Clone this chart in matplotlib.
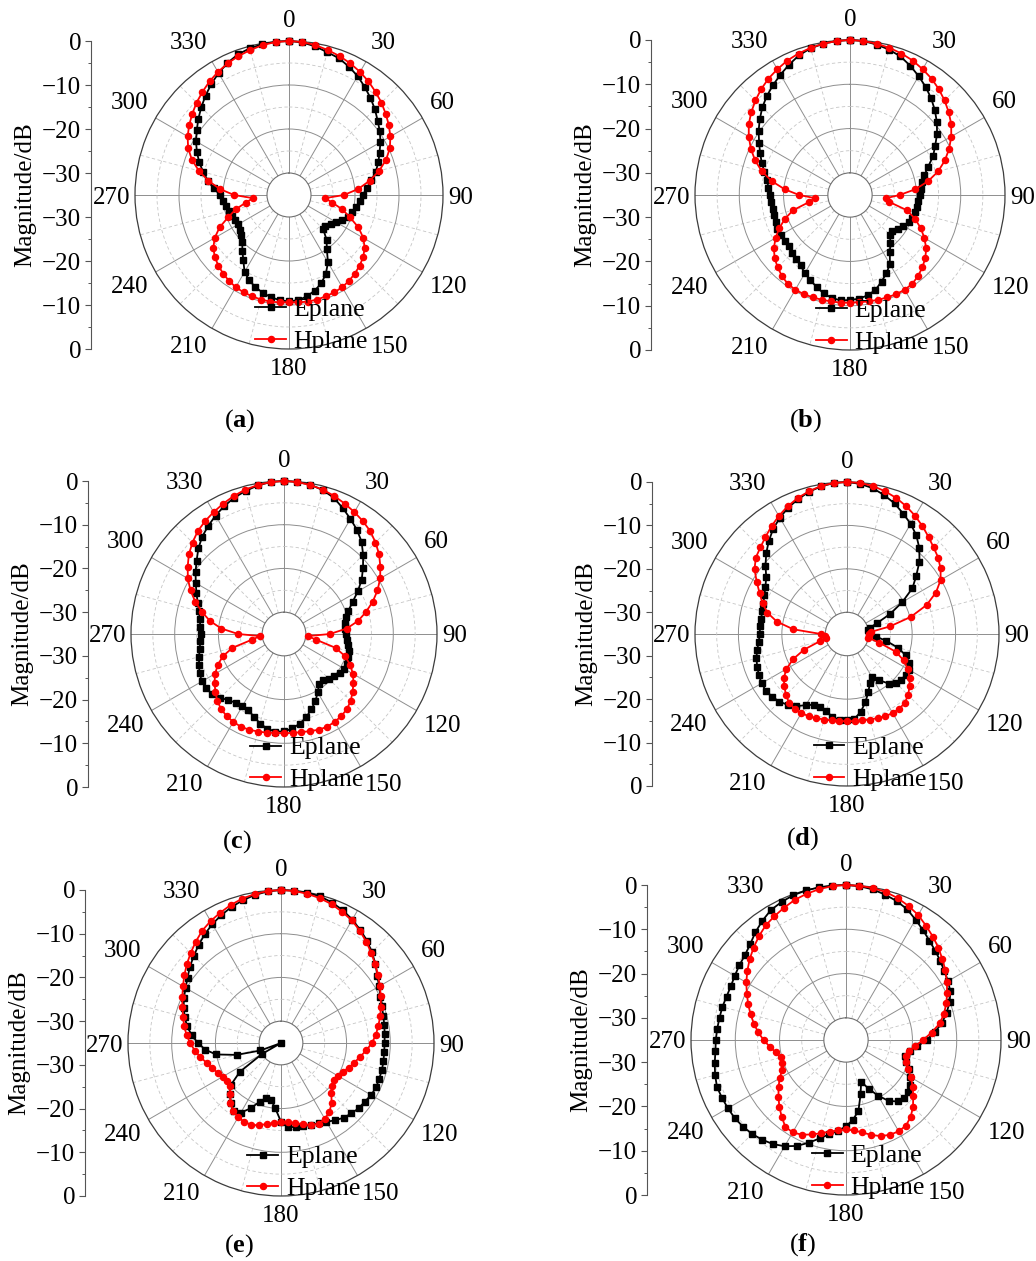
"""Radiation patterns (E-plane / H-plane) for six antenna states, polar dB plots."""

import matplotlib.pyplot as plt
import numpy as np
from matplotlib.ticker import FixedLocator

plt.rcParams["font.family"] = ["Liberation Serif", "DejaVu Serif"]
plt.rcParams["mathtext.fontset"] = "custom"
plt.rcParams["mathtext.rm"] = "Liberation Serif"
plt.rcParams["mathtext.bf"] = "Liberation Serif:bold"

W, H = 1036, 1261

# sampling angles (deg, clockwise from broadside)
ANGLES_DEG = np.arange(0, 360, 5)

E_A = [0.0, -0.2, -0.7, -1.4, -1.9, -2.8, -3.8, -5.0, -6.2, -7.4, -8.7, -9.8,
       -11.0, -12.3, -13.4, -14.6, -16.0, -17.3, -18.2, -18.9, -19.5, -20.1, -20.7, -21.7,
       -22.6, -23.4, -24.2, -24.0, -21.7, -20.0, -17.3, -15.2, -13.6, -12.5, -11.6, -11.0,
       -10.8, -11.0, -11.4, -12.0, -12.7, -13.6, -14.8, -16.9, -18.5, -20.0, -20.8, -21.3,
       -21.6, -21.5, -21.2, -20.8, -20.4, -20.0, -19.4, -17.8, -16.3, -14.8, -13.3, -11.9,
       -10.6, -9.4, -8.1, -6.8, -5.5, -4.2, -3.0, -1.9, -1.0, -0.5, -0.2, -0.05]
H_A = [0.0, -0.1, -0.4, -0.9, -1.4, -2.0, -2.7, -3.5, -4.4, -5.3, -6.3, -7.3,
       -8.4, -9.7, -11.5, -13.8, -16.4, -19.2, -22.5, -26.8, -25.0, -22.5, -20.3, -17.6,
       -15.5, -14.0, -13.0, -12.3, -11.7, -11.2, -10.8, -10.6, -10.5, -10.4, -10.4, -10.5,
       -10.6, -10.5, -10.4, -10.4, -10.5, -10.6, -10.8, -11.2, -11.7, -12.3, -13.0, -14.0,
       -15.5, -17.6, -20.3, -22.5, -25.0, -26.8, -22.5, -19.2, -16.4, -13.8, -11.5, -9.7,
       -8.4, -7.3, -6.3, -5.3, -4.4, -3.5, -2.7, -2.0, -1.4, -0.9, -0.4, -0.1]

E_B = [0.0, -0.1, -0.5, -1.0, -1.7, -2.8, -4.0, -5.2, -6.5, -7.9, -9.4, -11.0,
       -12.8, -14.3, -16.2, -17.6, -18.4, -19.0, -19.3, -19.6, -19.7, -19.8, -20.1, -20.4,
       -21.1, -21.8, -22.5, -22.2, -20.8, -19.3, -17.0, -15.5, -14.2, -12.8, -12.0, -11.5,
       -11.3, -11.1, -11.4, -12.0, -12.9, -13.8, -14.6, -15.6, -16.2, -16.6, -17.0, -17.0,
       -16.9, -16.9, -17.1, -17.2, -17.3, -17.1, -16.9, -16.5, -16.0, -15.0, -13.8, -12.6,
       -11.3, -9.8, -8.4, -7.0, -5.8, -4.7, -3.6, -2.5, -1.4, -0.7, -0.3, -0.1]
H_B = [0.0, -0.1, -0.3, -0.6, -1.0, -1.5, -2.2, -2.9, -3.8, -4.8, -5.9, -7.1,
       -8.6, -10.3, -12.2, -14.4, -17.1, -20.2, -23.8, -26.8, -26.0, -21.7, -19.4, -17.4,
       -15.6, -14.0, -12.8, -11.9, -11.1, -10.5, -10.3, -10.3, -10.4, -10.5, -10.6, -10.7,
       -10.7, -10.6, -10.6, -10.5, -10.4, -10.3, -10.3, -10.5, -11.1, -11.9, -12.8, -14.0,
       -15.6, -17.4, -19.4, -21.7, -25.5, -27.0, -23.5, -20.2, -17.1, -14.4, -12.2, -10.3,
       -8.6, -7.1, -5.9, -4.8, -3.8, -2.9, -2.2, -1.5, -1.0, -0.6, -0.3, -0.1]

E_C = [0.0, -0.1, -0.3, -0.9, -1.8, -3.2, -4.6, -5.9, -7.4, -9.4, -11.4, -13.3,
       -15.5, -17.7, -19.3, -20.3, -20.8, -21.0, -20.9, -20.5, -20.1, -19.7, -19.3, -19.0,
       -19.1, -19.5, -20.0, -20.6, -21.2, -21.0, -19.6, -18.0, -16.7, -15.3, -14.2, -13.3,
       -12.7, -12.6, -13.0, -13.8, -14.9, -15.7, -16.0, -15.8, -15.2, -14.4, -13.6, -13.3,
       -13.3, -13.7, -14.3, -14.9, -15.4, -15.8, -15.9, -15.8, -15.4, -14.9, -14.0, -12.9,
       -11.7, -10.3, -8.9, -7.3, -5.9, -4.8, -3.7, -2.7, -1.8, -1.1, -0.5, -0.1]
H_C = [0.0, -0.1, -0.4, -0.8, -1.4, -2.1, -2.8, -3.5, -4.3, -5.4, -6.6, -8.1,
       -9.6, -11.4, -13.4, -15.6, -17.8, -20.6, -24.5, -29.5, -27.6, -22.8, -20.1, -18.3,
       -16.8, -15.6, -14.5, -13.4, -12.6, -12.1, -11.8, -11.6, -11.7, -12.0, -12.2, -12.3,
       -12.3, -12.3, -12.1, -11.9, -11.7, -11.6, -11.8, -12.1, -12.6, -13.4, -14.5, -15.6,
       -16.8, -18.3, -20.1, -22.8, -27.6, -29.5, -24.5, -20.6, -17.8, -15.6, -13.4, -11.4,
       -9.6, -8.1, -6.6, -5.4, -4.3, -3.5, -2.8, -2.1, -1.4, -0.8, -0.4, -0.1]

E_D = [0.0, -0.3, -0.9, -1.9, -3.0, -4.4, -5.7, -7.2, -9.1, -11.4, -14.2, -16.6,
       -20.3, -24.0, -27.6, -29.6, -30.0, -30.0, -29.8, -28.3, -25.8, -22.9, -20.6, -19.2,
       -18.5, -18.5, -18.7, -19.1, -20.1, -22.0, -23.6, -22.5, -20.7, -18.7, -16.8, -15.4,
       -15.1, -15.2, -15.6, -16.6, -17.1, -17.0, -16.1, -14.7, -13.7, -13.0, -12.5, -12.2,
       -12.3, -12.6, -13.0, -13.4, -14.0, -14.6, -14.9, -14.9, -14.9, -14.8, -14.5, -14.0,
       -13.3, -12.3, -10.5, -8.7, -7.0, -5.4, -4.1, -2.9, -2.0, -1.1, -0.5, -0.1]
H_D = [0.0, -0.1, -0.4, -1.0, -1.7, -2.6, -3.6, -4.7, -5.8, -6.8, -7.6, -8.7,
       -10.1, -12.4, -15.5, -19.8, -25.0, -29.5, -30.0, -30.0, -30.0, -27.3, -23.0, -20.6,
       -18.8, -17.4, -16.2, -15.1, -14.3, -14.0, -14.0, -14.1, -14.4, -14.6, -14.8, -14.9,
       -14.9, -14.9, -14.8, -14.6, -14.4, -14.1, -14.0, -14.0, -14.3, -15.1, -16.2, -17.2,
       -18.9, -21.3, -24.5, -28.5, -30.0, -30.0, -29.0, -22.6, -18.6, -16.0, -14.3, -12.8,
       -11.0, -9.0, -7.6, -6.8, -5.8, -4.7, -3.6, -2.6, -1.7, -1.0, -0.4, -0.1]

E_E = [0.0, -0.05, -0.1, -0.3, -0.8, -1.5, -2.4, -3.4, -4.4, -5.6, -6.8, -8.1,
       -9.1, -9.9, -10.4, -10.8, -11.0, -11.2, -11.3, -11.3, -11.2, -11.1, -11.1, -11.0,
       -11.2, -11.6, -11.8, -12.2, -12.7, -13.4, -14.2, -14.7, -15.1, -15.3, -15.4, -15.8,
       -17.0, -20.0, -21.8, -22.0, -20.7, -18.5, -16.6, -16.1, -17.2, -18.4, -20.0, -23.5,
       -30.0, -35.0, -30.0, -24.5, -19.9, -17.6, -16.0, -14.5, -13.2, -12.2, -11.3, -10.5,
       -9.8, -8.9, -7.8, -6.8, -5.7, -4.6, -3.6, -2.7, -1.9, -1.2, -0.6, -0.2]
H_E = [0.0, -0.1, -0.35, -0.7, -1.2, -1.9, -2.6, -3.6, -4.7, -5.8, -6.9, -7.9,
       -8.9, -9.8, -10.7, -11.5, -12.4, -13.2, -14.2, -15.4, -16.7, -17.6, -18.5, -19.4,
       -20.0, -20.3, -19.8, -18.7, -17.0, -15.7, -15.0, -14.6, -15.0, -15.8, -16.4, -16.8,
       -17.0, -16.6, -16.2, -15.5, -15.1, -15.1, -15.4, -16.0, -17.0, -18.6, -19.7, -20.0,
       -19.6, -19.0, -18.2, -17.4, -16.3, -15.2, -14.2, -13.3, -12.5, -11.8, -11.0, -10.1,
       -9.1, -8.0, -6.9, -5.8, -4.7, -3.6, -2.8, -2.1, -1.4, -0.8, -0.4, -0.1]

E_F = [0.0, -0.15, -0.45, -1.0, -1.6, -2.4, -3.6, -4.7, -5.7, -6.5, -7.2, -7.9,
       -8.4, -9.0, -10.1, -11.5, -13.0, -14.9, -16.8, -18.8, -20.3, -21.1, -20.6, -19.4,
       -18.3, -17.3, -16.6, -16.5, -16.9, -18.2, -20.5, -22.8, -25.0, -22.3, -18.8, -16.9,
       -15.5, -14.4, -13.4, -12.0, -10.3, -8.6, -7.3, -6.3, -5.6, -5.0, -4.6, -4.3,
       -4.2, -4.1, -4.0, -4.4, -4.9, -5.4, -5.6, -5.8, -6.0, -6.1, -6.3, -6.3,
       -6.0, -5.6, -5.2, -4.4, -3.2, -2.1, -1.1, -0.6, -0.2, -0.05, 0.0, 0.0]
H_F = [0.0, -0.05, -0.15, -0.4, -0.9, -1.6, -2.4, -3.5, -4.5, -5.5, -6.6, -7.6,
       -8.7, -9.8, -10.9, -12.1, -13.5, -15.6, -17.6, -19.3, -20.5, -20.9, -20.5, -19.6,
       -18.1, -16.6, -15.2, -13.6, -12.3, -11.4, -11.2, -11.4, -11.9, -12.8, -13.8, -14.5,
       -14.8, -14.5, -14.0, -13.2, -12.3, -11.4, -10.9, -11.1, -12.4, -13.7, -15.1, -16.4,
       -17.7, -19.1, -19.7, -19.8, -18.9, -17.7, -16.4, -15.1, -13.9, -12.7, -11.5, -10.3,
       -9.0, -7.8, -6.6, -5.5, -4.4, -3.4, -2.7, -2.0, -1.3, -0.8, -0.4, -0.1]

DB_TICKS = [0, -10, -20, -30]
DB_MINOR = [-5, -15, -25]
R_MIN, R_ORIGIN = -30, -35

# letter, E data, H data, centre x/y (px), radius (px), scale-bar x (px), caption x/y (px)
PANELS = [
    ("a", E_A, H_A, 289, 195, 154, 91, 240, 421),
    ("b", E_B, H_B, 850, 195, 155, 651, 806, 421),
    ("c", E_C, H_C, 284, 634, 153, 88, 237, 842),
    ("d", E_D, H_D, 847, 634, 152, 652, 803, 839),
    ("e", E_E, H_E, 281, 1043, 153, 85, 239, 1246),
    ("f", E_F, H_F, 846, 1040, 155, 647, 803, 1245),
]

FS = 18


def fmt_db(v):
    return "0" if v == 0 else "\u2212%d" % abs(v)


def draw_panel(fig, letter, e_db, h_db, cx, cy, rad, bar_x, cap_x, cap_y):
    rect = [(cx - rad) / W, 1 - (cy + rad) / H, 2 * rad / W, 2 * rad / H]
    ax = fig.add_axes(rect, projection="polar")
    ax.set_theta_zero_location("N")
    ax.set_theta_direction(-1)
    ax.set_ylim(R_MIN, 0)
    ax.set_rorigin(R_ORIGIN)

    ax.set_xticks(np.deg2rad(np.arange(0, 360, 30)))
    ax.xaxis.set_minor_locator(FixedLocator(np.deg2rad(np.arange(15, 360, 30))))
    ax.set_yticks([-20, -10])
    ax.yaxis.set_minor_locator(FixedLocator(DB_MINOR))
    ax.set_xticklabels([])
    ax.set_yticklabels([])
    ax.tick_params(which="both", length=0)
    ax.grid(which="major", color="#8e8e8e", lw=0.7, ls="-")
    ax.grid(which="minor", color="#c6c6c6", lw=0.6, ls=(0, (4, 3)))
    ax.spines["polar"].set_color("#3c3c3c")
    ax.spines["polar"].set_linewidth(0.9)
    ax.spines["inner"].set_color("#707070")
    ax.spines["inner"].set_linewidth(0.8)

    theta = np.deg2rad(np.append(ANGLES_DEG, 360))
    e = np.append(e_db, e_db[0])
    h = np.append(h_db, h_db[0])
    ax.plot(theta, e, color="black", lw=1.3, marker="s", ms=3.8,
            label="Eplane", clip_on=False, zorder=3)
    ax.plot(theta, h, color="red", lw=1.3, marker="o", ms=4.4,
            label="Hplane", clip_on=False, zorder=4)

    # angle labels sit just outside the rim, anchored by quadrant
    for a in range(0, 360, 30):
        t = np.deg2rad(a)
        s, c = np.sin(t), np.cos(t)
        ha = "left" if s > 0.1 else ("right" if s < -0.1 else "center")
        va = "bottom" if c > 0.1 else ("top" if c < -0.1 else "center_baseline")
        gap = 1.1 if a in (90, 270) else 2.0
        ax.text(t, gap, str(a), ha=ha, va=va, fontsize=FS, clip_on=False)

    ax.legend(loc="upper left", bbox_to_anchor=(0.39, 0.165), frameon=False,
              fontsize=18.5, handlelength=1.2, handletextpad=0.3,
              labelspacing=0.35, borderpad=0, borderaxespad=0)

    # mirrored dB scale bar on the left (top half and bottom half)
    lax = fig.add_axes([bar_x / W, 1 - (cy + rad) / H, 0.0005, 2 * rad / H])
    lax.set_ylim(-(0 - R_ORIGIN), 0 - R_ORIGIN)
    lax.patch.set_visible(False)
    for side in ("top", "right", "bottom"):
        lax.spines[side].set_visible(False)
    lax.spines["left"].set_color("#555555")
    lax.spines["left"].set_linewidth(0.8)
    lax.set_xticks([])
    pos = [d - R_ORIGIN for d in DB_TICKS] + [-(d - R_ORIGIN) for d in DB_TICKS]
    lax.set_yticks(pos)
    lax.set_yticklabels([fmt_db(d) for d in DB_TICKS] * 2)
    minor = [d - R_ORIGIN for d in DB_MINOR] + [-(d - R_ORIGIN) for d in DB_MINOR]
    lax.yaxis.set_minor_locator(FixedLocator(minor))
    lax.tick_params(axis="y", which="major", direction="out", length=4,
                    width=0.8, color="#555555", labelsize=FS, pad=3)
    lax.tick_params(axis="y", which="minor", direction="out", length=2.5,
                    width=0.7, color="#555555")

    fig.text((bar_x - 66) / W, 1 - cy / H, "Magnitude/dB", rotation=90,
             ha="center", va="center", fontsize=FS)
    fig.text(cap_x / W, 1 - cap_y / H, r"($\mathbf{%s}$)" % letter,
             ha="center", va="center", fontsize=19)


def main():
    fig = plt.figure(figsize=(W / 100, H / 100), dpi=100, facecolor="white")
    for panel in PANELS:
        draw_panel(fig, *panel)
    fig.savefig("out.png", dpi=100, facecolor="white")
    plt.close(fig)


if __name__ == "__main__":
    main()
